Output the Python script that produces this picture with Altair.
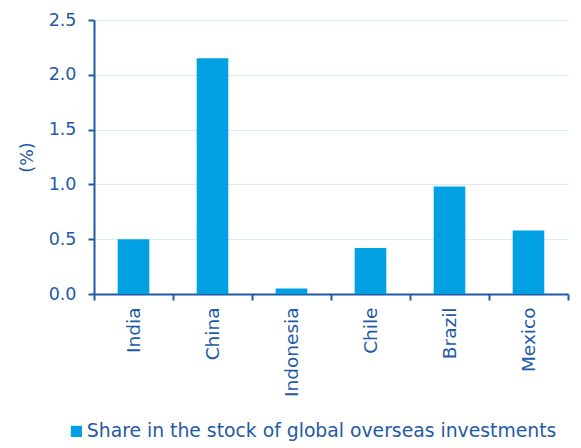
import altair as alt
import pandas as pd

countries = ["India", "China", "Indonesia", "Chile", "Brazil", "Mexico"]
shares = [0.50, 2.15, 0.05, 0.42, 0.98, 0.58]
series_name = "Share in the stock of global overseas investments"

df = pd.DataFrame({"country": countries, "share": shares, "series": [series_name] * len(countries)})

blue = "#00A0E3"
dark = "#1F5AA6"
font = "DejaVu Sans"

chart = alt.Chart(df).mark_bar(width=alt.RelativeBandSize(0.4)).encode(
    x=alt.X("country:N", sort=countries, title=None,
            scale=alt.Scale(paddingInner=0, paddingOuter=0),
            axis=alt.Axis(labelAngle=-90, labelAlign="right", labelBaseline="middle",
                          tickBand="extent", labelPadding=7, tickSize=6,
                          domainColor=dark, domainWidth=2, tickColor=dark, tickWidth=2,
                          labelColor=dark, labelFont=font, labelFontSize=18.5, grid=False)),
    y=alt.Y("share:Q", title="(%)",
            scale=alt.Scale(domain=[0, 2.5], nice=False),
            axis=alt.Axis(values=[0, 0.5, 1.0, 1.5, 2.0, 2.5], format=".1f",
                          tickSize=6, labelPadding=12, domainColor=dark, domainWidth=2,
                          tickColor=dark, tickWidth=2, labelColor=dark, labelFont=font,
                          labelFontSize=17.5, titleColor=dark, titleFont=font,
                          titleFontSize=17.5, titleFontWeight="normal", titlePadding=12,
                          grid=True, gridColor="#D3EDFA", gridWidth=1)),
    color=alt.Color("series:N", scale=alt.Scale(range=[blue]),
                    legend=alt.Legend(title=None, orient="none", legendX=-27, legendY=402,
                                      symbolType="square", symbolSize=125,
                                      symbolStrokeWidth=0, labelColor=dark,
                                      labelFont=font, labelFontSize=18.8, labelLimit=600,
                                      labelOffset=1)),
).properties(
    width=474, height=274,
    autosize=alt.AutoSizeParams(type="none"),
    padding={"left": 94, "top": 20, "right": 13, "bottom": 154},
).configure_view(stroke=None)

chart.save("out.html", embed_options={"renderer": "svg", "actions": False})
